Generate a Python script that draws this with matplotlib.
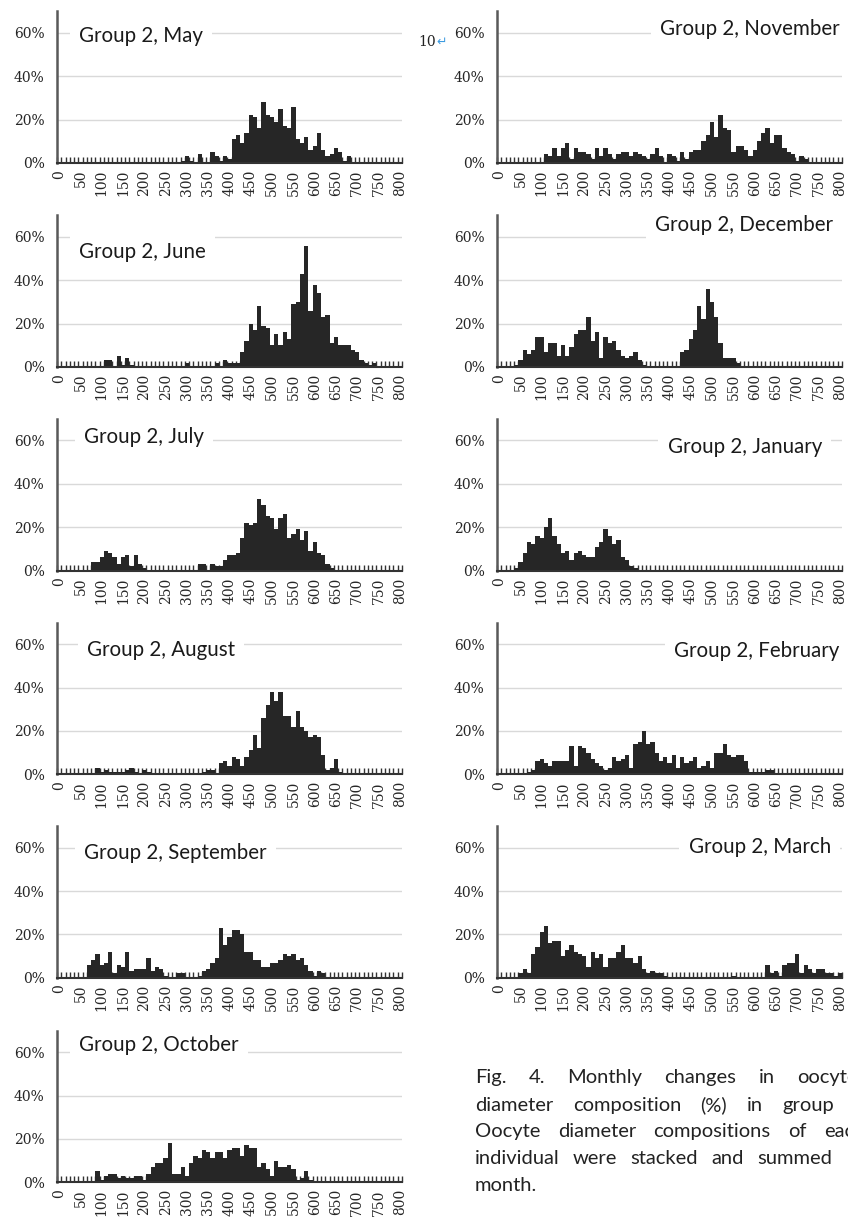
import numpy as np
import matplotlib.pyplot as plt

# oocyte diameter classes (um), one bar per 10 um class
diameters = list(range(0, 810, 10))

may = [0, 0, 0, 0, 0, 0, 0, 0, 0, 0,
       0, 0, 0, 0, 0, 0, 0, 0, 0, 0,
       0, 0, 0, 0, 0, 0, 0, 0, 0, 1,
       3, 1, 0, 4, 0, 0, 5, 3, 1, 3,
       2, 11, 13, 9, 14, 22, 21, 16, 28, 22,
       21, 19, 25, 17, 16, 26, 11, 9, 12, 6,
       8, 14, 6, 3, 4, 7, 5, 1, 3, 0,
       0, 0, 0, 0, 0, 0, 0, 0, 0, 0, 0]

june = [0, 0, 0, 0, 0, 0, 0, 0, 0, 0,
        0, 3, 3, 0, 5, 1, 4, 1, 0, 0,
        0, 0, 0, 0, 0, 0, 0, 0, 0, 0,
        2, 0, 0, 0, 0, 0, 0, 2, 0, 3,
        2, 2, 2, 7, 12, 20, 17, 28, 19, 18,
        10, 15, 10, 16, 13, 29, 30, 43, 56, 26,
        38, 34, 23, 24, 11, 14, 10, 10, 10, 8,
        7, 3, 2, 1, 2, 0, 0, 0, 0, 0, 0]

july = [0, 0, 0, 0, 0, 0, 0, 0, 4, 4,
        6, 9, 8, 6, 3, 6, 7, 2, 7, 3,
        1, 0, 0, 0, 0, 0, 0, 0, 0, 0,
        0, 0, 0, 3, 3, 0, 3, 2, 2, 5,
        7, 7, 8, 15, 22, 21, 22, 33, 30, 25,
        24, 19, 24, 26, 15, 17, 19, 14, 18, 9,
        13, 8, 7, 3, 1, 0, 0, 0, 0, 0,
        0, 0, 0, 0, 0, 0, 0, 0, 0, 0, 0]

august = [0, 0, 0, 0, 0, 0, 0, 0, 0, 3,
          1, 2, 1, 1, 1, 1, 2, 3, 1, 0,
          2, 1, 0, 0, 0, 0, 0, 0, 0, 0,
          0, 0, 0, 0, 1, 2, 2, 0, 5, 6,
          4, 8, 7, 4, 8, 11, 18, 12, 26, 32,
          38, 34, 38, 27, 27, 22, 29, 22, 20, 17,
          18, 17, 9, 2, 3, 7, 1, 0, 0, 0,
          0, 0, 0, 0, 0, 0, 0, 0, 0, 0, 0]

september = [0, 0, 0, 0, 0, 0, 0, 6, 8, 11,
             6, 7, 12, 2, 6, 5, 12, 3, 4, 4,
             4, 9, 3, 5, 4, 1, 0, 0, 2, 2,
             0, 0, 0, 1, 3, 4, 7, 9, 23, 15,
             19, 22, 22, 20, 12, 12, 8, 8, 5, 5,
             7, 7, 8, 11, 10, 11, 8, 9, 6, 3,
             1, 3, 2, 0, 0, 0, 0, 0, 0, 0,
             0, 0, 0, 0, 0, 0, 0, 0, 0, 0, 0]

october = [0, 0, 0, 0, 0, 0, 0, 0, 0, 5,
           1, 3, 4, 4, 2, 3, 2, 2, 3, 3,
           1, 4, 7, 9, 9, 11, 18, 4, 4, 7,
           3, 9, 12, 11, 15, 14, 11, 14, 14, 11,
           15, 16, 16, 12, 17, 16, 16, 7, 9, 6,
           3, 10, 7, 7, 8, 6, 1, 2, 5, 1,
           0, 0, 0, 0, 0, 0, 0, 0, 0, 0,
           0, 0, 0, 0, 0, 0, 0, 0, 0, 0, 0]

november = [0, 0, 0, 0, 0, 0, 0, 0, 0, 0,
            0, 4, 3, 7, 3, 7, 9, 2, 7, 5,
            5, 4, 2, 7, 3, 7, 4, 2, 4, 5,
            5, 3, 5, 4, 3, 2, 4, 7, 3, 0,
            4, 3, 1, 5, 2, 5, 6, 6, 10, 13,
            19, 12, 22, 16, 15, 5, 8, 8, 6, 3,
            6, 10, 14, 16, 9, 13, 13, 7, 5, 4,
            1, 3, 2, 0, 0, 0, 0, 0, 0, 0, 0]

december = [0, 0, 0, 0, 1, 3, 8, 6, 8, 14,
            14, 7, 11, 11, 5, 10, 5, 9, 15, 17,
            17, 23, 12, 16, 4, 14, 11, 12, 8, 5,
            4, 5, 7, 3, 1, 0, 0, 0, 0, 0,
            0, 0, 0, 7, 8, 13, 17, 28, 22, 36,
            30, 23, 11, 4, 4, 4, 2, 0, 0, 0,
            0, 0, 0, 0, 0, 0, 0, 0, 0, 0,
            0, 0, 0, 0, 0, 0, 0, 0, 0, 0, 0]

january = [0, 0, 0, 0, 1, 4, 8, 13, 12, 16,
           15, 20, 24, 16, 12, 8, 9, 5, 8, 9,
           7, 6, 6, 11, 13, 19, 16, 12, 14, 6,
           5, 2, 1, 0, 0, 0, 0, 0, 0, 0,
           0, 0, 0, 0, 0, 0, 0, 0, 0, 0,
           0, 0, 0, 0, 0, 0, 0, 0, 0, 0,
           0, 0, 0, 0, 0, 0, 0, 0, 0, 0,
           0, 0, 0, 0, 0, 0, 0, 0, 0, 0, 0]

february = [0, 0, 0, 0, 0, 0, 0, 1, 2, 6,
            7, 5, 4, 6, 6, 6, 6, 13, 4, 13,
            12, 10, 7, 5, 4, 2, 3, 8, 6, 7,
            9, 3, 14, 15, 20, 14, 15, 10, 6, 8,
            5, 9, 3, 8, 5, 6, 8, 3, 4, 6,
            3, 10, 10, 14, 9, 8, 9, 9, 6, 1,
            1, 1, 1, 2, 2, 0, 0, 0, 0, 0,
            0, 0, 0, 0, 0, 0, 0, 0, 0, 0, 0]

march = [0, 0, 0, 0, 0, 2, 4, 2, 11, 14,
         21, 24, 16, 17, 17, 10, 13, 15, 12, 11,
         10, 5, 12, 9, 11, 5, 9, 9, 12, 15,
         9, 9, 7, 10, 4, 2, 3, 2, 2, 1,
         0, 0, 0, 0, 0, 0, 0, 0, 0, 0,
         0, 0, 0, 0, 0, 1, 0, 0, 0, 0,
         0, 0, 0, 6, 2, 3, 1, 6, 7, 7,
         11, 2, 6, 4, 2, 4, 4, 2, 2, 1, 2]

months = ['May', 'June', 'July', 'August', 'September', 'October',
          'November', 'December', 'January', 'February', 'March']
series = [may, june, july, august, september, october,
          november, december, january, february, march]

caption = [['Fig.', '4.', 'Monthly', 'changes', 'in', 'oocyte'],
           ['diameter', 'composition', '(%)', 'in', 'group'],
           ['Oocyte', 'diameter', 'compositions', 'of', 'each'],
           ['individual', 'were', 'stacked', 'and', 'summed'],
           ['month.']]

# ---- layout (pixels of an 848 x 1217 canvas) ----
W, H = 848, 1217
row_zero = [163, 367, 570.5, 774.3, 977.7, 1182.3]   # pixel row of the 0% line
ax_h = 151.7
ax_w = 345
col_x = [57, 497]

# panel -> (column, row, title x, title baseline %, alignment)
panel_pos = [(0, 0, 47, 56, 'left'), (0, 1, 47, 50.3, 'left'),
             (0, 2, 58, 59, 'left'), (0, 3, 65, 54.7, 'left'),
             (0, 4, 58, 54.6, 'left'), (0, 5, 47, 60.7, 'left'),
             (1, 0, 800, 59, 'right'), (1, 1, 784, 62.6, 'right'),
             (1, 2, 758, 54.3, 'right'), (1, 3, 800, 54.3, 'right'),
             (1, 4, 779, 57.7, 'right')]

bar_color = '#262626'
title_font = 'Lato'
tick_font = 'DejaVu Serif'

fig = plt.figure(figsize=(W / 100, H / 100), dpi=100)

for month, vals, (col, row, tx, ty, ha) in zip(months, series, panel_pos):
    left = col_x[col] / W
    bottom = 1 - row_zero[row] / H
    ax = fig.add_axes([left, bottom, ax_w / W, ax_h / H])

    ax.bar(diameters, vals, width=10, color=bar_color, linewidth=0, zorder=2)

    ax.set_xlim(-5, 805)
    ax.set_ylim(0, 70)
    ax.set_axisbelow(True)
    ax.yaxis.grid(True, color='#d9d9d9', linewidth=1)

    ax.set_yticks([0, 20, 40, 60])
    ax.set_yticklabels([f'{v}%' for v in [0, 20, 40, 60]],
                       fontfamily=tick_font, fontsize=10, color='#262626')
    ax.tick_params(axis='y', length=0, pad=9)

    xt = list(range(0, 801, 50))
    ax.set_xticks(xt)
    ax.set_xticklabels([str(v) for v in xt], rotation=90,
                       fontfamily=tick_font, fontsize=10, color='#262626')
    ax.set_xticks(np.arange(-5, 806, 10), minor=True)
    ax.tick_params(axis='x', which='major', length=0, pad=5)
    ax.tick_params(axis='x', which='minor', direction='in', length=4,
                   width=1, color='#333333')

    for s in ['top', 'right']:
        ax.spines[s].set_visible(False)
    ax.spines['left'].set_color('#595959')
    ax.spines['left'].set_linewidth(1.8)
    ax.spines['bottom'].set_color('#333333')
    ax.spines['bottom'].set_linewidth(1.5)

    ax.text(tx, ty, f'Group 2, {month}', ha=ha, va='baseline',
            fontsize=14.8, family=title_font, color='#1a1a1a', zorder=3,
            bbox=dict(facecolor='white', edgecolor='none',
                      boxstyle='square,pad=0.45'))

# page number with its return mark
fig.text(418 / W, 1 - 46 / H, '10', fontsize=10, family='DejaVu Serif',
         color='#222222', va='baseline')
fig.text(436 / W, 1 - 46 / H, '\u21b5', fontsize=9, family='DejaVu Sans',
         color='#3d9be0', va='baseline')

# justified caption: first word at the left margin, last word at its
# start column, the words between spread with equal gaps
cap_left = 475
cap_last = [797, 782, 824, 757, 475]
cap_y = [1083.3, 1110.7, 1137.3, 1164, 1190.7]
renderer = fig.canvas.get_renderer()
for words, last_x, y in zip(caption, cap_last, cap_y):
    texts = [fig.text(0, 1 - y / H, w, fontsize=14.5, family=title_font,
                      color='#222222', va='baseline') for w in words]
    widths = [t.get_window_extent(renderer).width for t in texts]
    if len(texts) > 1:
        gap = (last_x - cap_left - sum(widths[:-1])) / (len(texts) - 1)
    else:
        gap = 0
    x = cap_left
    for t, wd in zip(texts, widths):
        t.set_x(x / W)
        x += wd + gap

fig.savefig('out.png', dpi=100)
